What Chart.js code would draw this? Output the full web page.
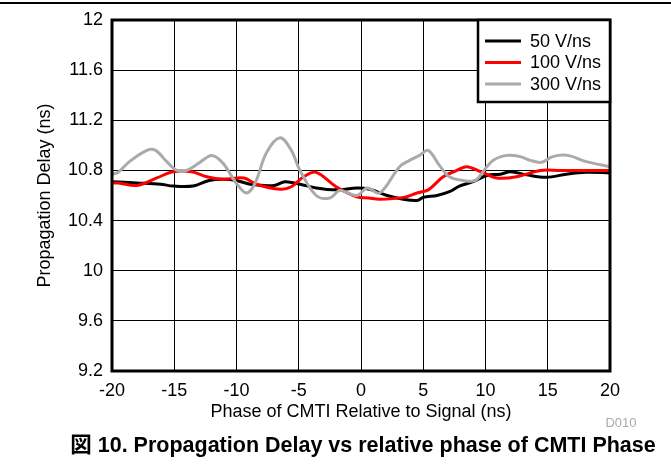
<!DOCTYPE html>
<html><head><meta charset="utf-8">
<script src="https://cdn.jsdelivr.net/npm/chart.js@4/dist/chart.umd.min.js"></script>
<style>html,body{margin:0;padding:0;background:#fff}#wrap{width:671px;height:465px;position:relative}</style>
</head><body><div id="wrap"><canvas id="c"></canvas></div>
<script>
const seriesLabels = ['50 V/ns', '100 V/ns', '300 V/ns'];
const xTicks = [-20, -15, -10, -5, 0, 5, 10, 15, 20];
const yTicks = [9.2, 9.6, 10, 10.4, 10.8, 11.2, 11.6, 12];

const x50 = [-20, -18, -16.1, -15.1, -13.5, -12.2, -11.1, -10, -8.9, -7, -6.1, -4.9, -3.6, -2, -0.3, 0.7, 2.1, 3.4, 4.5, 5, 6.1, 7.1, 7.9, 9, 10.1, 11.2, 12, 13.3, 14.9, 16.5, 18.1, 20];
const y50 = [10.71, 10.70, 10.69, 10.675, 10.675, 10.72, 10.73, 10.72, 10.69, 10.68, 10.71, 10.69, 10.66, 10.645, 10.66, 10.65, 10.60, 10.57, 10.56, 10.585, 10.60, 10.63, 10.675, 10.71, 10.76, 10.77, 10.79, 10.765, 10.745, 10.77, 10.785, 10.78];

const x100 = [-20, -19.5, -18, -16.4, -15.1, -13.6, -12.4, -11.1, -9.4, -8.4, -6.5, -5.6, -4.6, -3.6, -2, -0.35, 0.6, 1.5, 3.4, 4.5, 5.4, 6.6, 7.7, 8.5, 9.6, 10.9, 12.5, 14.4, 16, 18.1, 20];
const y100 = [10.70, 10.70, 10.68, 10.74, 10.79, 10.79, 10.75, 10.73, 10.74, 10.69, 10.65, 10.67, 10.75, 10.785, 10.67, 10.59, 10.58, 10.57, 10.585, 10.62, 10.645, 10.75, 10.80, 10.83, 10.79, 10.74, 10.75, 10.80, 10.80, 10.80, 10.80];

const x300 = [-20, -19.5, -18.6, -17.2, -16.5, -15.6, -14.8, -14, -13, -12, -11.1, -10.1, -9.2, -8.5, -7.6, -6.5, -5.6, -4.9, -3.6, -2.5, -1.7, -0.35, 0.5, 1.5, 3.1, 3.9, 4.7, 5.4, 6.3, 7.1, 8.2, 9.2, 9.8, 10.6, 11.7, 12.8, 13.6, 14.5, 15.4, 16.6, 18.1, 20];
const y300 = [10.77, 10.785, 10.87, 10.96, 10.96, 10.87, 10.80, 10.80, 10.86, 10.92, 10.86, 10.71, 10.62, 10.70, 10.94, 11.06, 10.96, 10.80, 10.60, 10.58, 10.64, 10.60, 10.66, 10.62, 10.83, 10.88, 10.92, 10.96, 10.84, 10.75, 10.72, 10.72, 10.79, 10.88, 10.92, 10.91, 10.88, 10.865, 10.91, 10.92, 10.87, 10.83];

const seriesColors = ['#000000', '#ff0000', '#aaaaaa'];
const xs = [x50, x100, x300];
const ys = [y50, y100, y300];

const FONT = '"Liberation Sans", Arial, sans-serif';

const decor = {
  id: 'decor',
  afterDraw(chart) {
    const ctx = chart.ctx;
    const a = chart.chartArea;
    ctx.save();
    // top separator
    ctx.strokeStyle = '#000';
    ctx.lineWidth = 2;
    ctx.beginPath(); ctx.moveTo(0, 3); ctx.lineTo(671, 3); ctx.stroke();
    // plot frame
    ctx.lineWidth = 3;
    ctx.strokeRect(a.left, a.top, a.right - a.left, a.bottom - a.top);
    // legend box
    const lx = 478, ly = a.top, lw = a.right - lx, lh = 82;
    ctx.fillStyle = '#fff';
    ctx.fillRect(lx, ly, lw, lh);
    ctx.lineWidth = 2.5;
    ctx.strokeRect(lx, ly, lw, lh);
    ctx.font = '18px ' + FONT;
    ctx.textBaseline = 'middle';
    ctx.textAlign = 'left';
    seriesLabels.forEach((lab, i) => {
      const yy = ly + 21 + i * 21.5;
      ctx.strokeStyle = seriesColors[i];
      ctx.lineWidth = 3;
      ctx.beginPath(); ctx.moveTo(485, yy); ctx.lineTo(521, yy); ctx.stroke();
      ctx.fillStyle = '#000';
      ctx.fillText(lab, 530, yy + 1);
    });
    // D010
    ctx.fillStyle = '#aaa';
    ctx.font = '13px ' + FONT;
    ctx.textAlign = 'center';
    ctx.fillText('D010', 621, 423);
    // caption
    ctx.fillStyle = '#000';
    ctx.font = 'bold 21.5px ' + FONT + ', "Noto Sans CJK JP"';
    ctx.fillText('図 10. Propagation Delay vs relative phase of CMTI Phase', 363, 446);
    ctx.restore();
  }
};

new Chart(document.getElementById('c'), {
  type: 'line',
  data: {
    datasets: seriesLabels.map((lab, i) => ({
      label: lab,
      data: xs[i].map((x, j) => ({ x: x, y: ys[i][j] })),
      borderColor: seriesColors[i],
      backgroundColor: seriesColors[i],
      borderWidth: 3,
      pointRadius: 0,
      tension: 0.35,
      fill: false
    })).reverse()
  },
  options: {
    responsive: true,
    maintainAspectRatio: false,
    animation: false,
    events: [],
    layout: { padding: { left: 0, right: 61, top: 20, bottom: 39 } },
    plugins: { legend: { display: false }, tooltip: { enabled: false } },
    scales: {
      x: {
        type: 'linear', min: -20, max: 20,
        afterBuildTicks: s => { s.ticks = xTicks.map(v => ({ value: v })); },
        afterFit: s => { s.height = 55; },
        grid: { color: '#000', lineWidth: 1, drawTicks: false },
        border: { display: false },
        ticks: { color: '#000', font: { family: FONT, size: 18 }, padding: 9, maxRotation: 0, callback: v => String(v) },
        title: { display: true, text: 'Phase of CMTI Relative to Signal (ns)', color: '#000', font: { family: FONT, size: 18 }, padding: { top: 0, bottom: 3 } }
      },
      y: {
        type: 'linear', min: 9.2, max: 12,
        afterBuildTicks: s => { s.ticks = yTicks.map(v => ({ value: v })); },
        afterFit: s => { s.width = 112; },
        grid: { color: '#000', lineWidth: 1, drawTicks: false },
        border: { display: false },
        ticks: { color: '#000', font: { family: FONT, size: 18 }, padding: 9, callback: v => String(Math.round(v * 10) / 10) },
        title: { display: true, text: 'Propagation Delay (ns)', color: '#000', font: { family: FONT, size: 18 }, padding: { top: 34, bottom: 0 } }
      }
    }
  },
  plugins: [decor]
});
</script></body></html>
